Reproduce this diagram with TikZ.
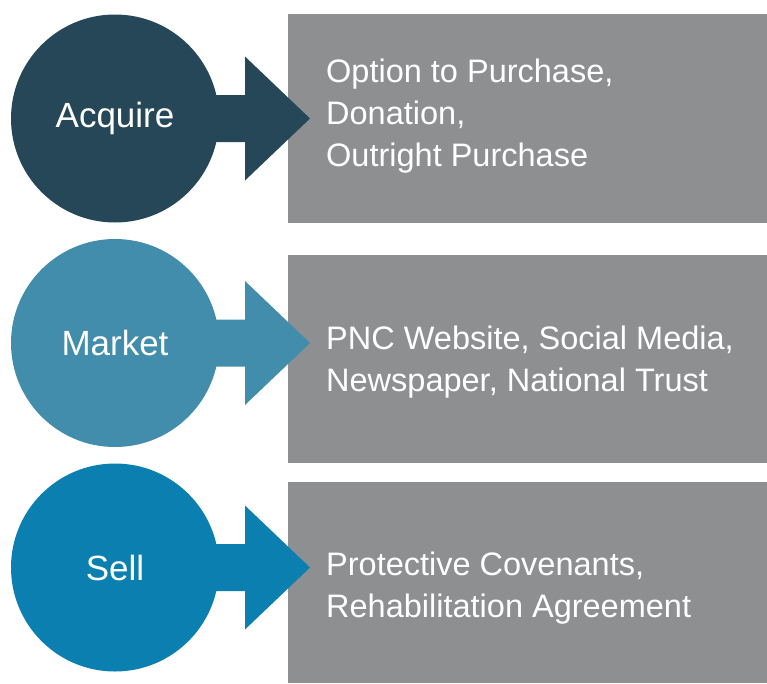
\documentclass[tikz,border=0pt]{standalone}
\usepackage{fontspec}
\setmainfont{Liberation Sans}
\usetikzlibrary{calc}

\definecolor{acqblue}{HTML}{264757}
\definecolor{mktblue}{HTML}{418DAB}
\definecolor{sellblue}{HTML}{0B80B0}
\definecolor{boxgray}{HTML}{8E8F91}

\tikzset{
  stage/.style={circle, fill=#1, minimum size=208pt, inner sep=0pt,
    text=white, font=\fontsize{35}{40}\selectfont},
  detail/.style={rectangle, fill=boxgray, anchor=north west, inner sep=0pt,
    minimum width=479pt},
  detailtext/.style={anchor=west, inner sep=0pt, align=left, text=white,
    font=\fontsize{32.5}{42}\selectfont},
}

% block arrow from a stage circle towards its box
\newcommand{\stagearrow}[2]{%
  \fill[#2] ($(#1.center)+(85,-23.5)$) -- ++(45,0) -- ++(0,-38.5)
    -- ($(#1.center)+(195,0)$) -- ($(#1.center)+(130,62)$) -- ++(0,-38.5)
    -- ++(-45,0) -- cycle;}

\begin{document}
\begin{tikzpicture}[x=1pt, y=-1pt]
    \useasboundingbox (0,0) rectangle (767,683);

    % grey boxes with the details
    \node[detail, minimum height=209pt] (acqbox) at (288,14) {};
    \node[detail, minimum height=208pt] (mktbox) at (288,255) {};
    \node[detail, minimum height=201pt] (sellbox) at (288,482) {};

    \node[detailtext] (acqtext) at ($(acqbox.west)+(38,-3)$)
        {Option to Purchase,\\Donation,\\Outright Purchase};
    \node[detailtext] (mkttext) at ($(mktbox.west)+(38,3)$)
        {PNC Website, Social Media,\\Newspaper, National Trust};
    \node[detailtext] (selltext) at ($(sellbox.west)+(38,5)$)
        {Protective Covenants,\\Rehabilitation Agreement};

    % the three stages
    \node[stage=acqblue] (acq) at (115,118.5) {Acquire};
    \node[stage=mktblue] (mkt) at (115,343) {Market};
    \node[stage=sellblue] (sell) at (115,567.5) {Sell};

    % arrows into the boxes
    \stagearrow{acq}{acqblue}
    \stagearrow{mkt}{mktblue}
    \stagearrow{sell}{sellblue}
\end{tikzpicture}
\end{document}
